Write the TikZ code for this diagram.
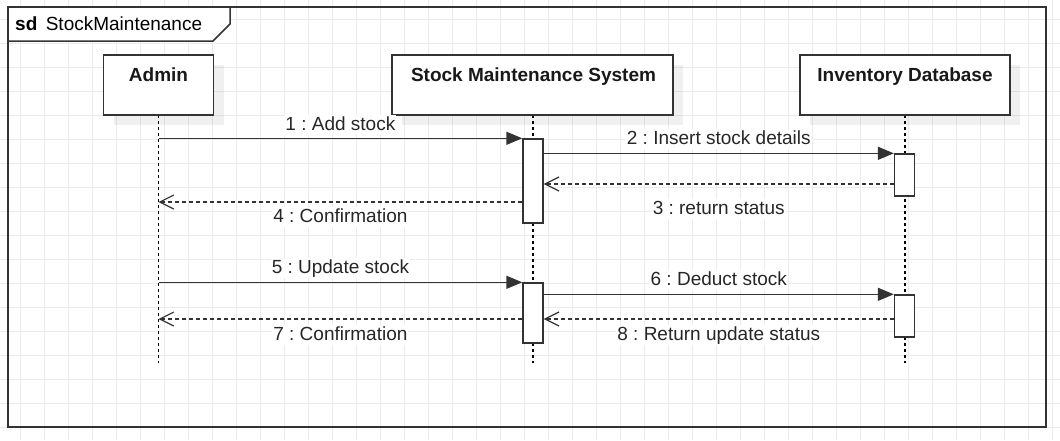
\documentclass[tikz,border=0pt]{standalone}
\usepackage{fontspec}
\setmainfont{Liberation Sans}
\usetikzlibrary{arrows.meta,shadows}
\frenchspacing

\begin{document}
\begin{tikzpicture}[x=1pt,y=-1pt,>=latex]

% --- Stijldefinities ---
\tikzset{
    raster/.style={draw=black!8, line width=0.8pt},
    kader/.style={draw=black!80, line width=1.5pt},
    kop/.style={
        draw=black!80, line width=1.5pt, fill=white,
        minimum height=60pt, inner sep=0pt,
        drop shadow={shadow xshift=10pt, shadow yshift=-10pt, fill=black, opacity=0.06}
    },
    koptekst/.style={
        font=\fontsize{19}{22}\selectfont\bfseries, text=black!90,
        inner sep=0pt, text height=14pt, text depth=0pt
    },
    levenslijn/.style={draw=black, line width=1.2pt, dash pattern=on 3pt off 3pt},
    activatie/.style={
        draw=black!80, line width=1.4pt, fill=white,
        minimum width=20pt, inner sep=0pt
    },
    bericht/.style={
        -{Triangle[length=16pt,width=13pt]},
        draw=black!80, line width=1.5pt
    },
    antwoord/.style={
        -{Straight Barb[length=14pt,width=14pt]},
        draw=black!80, line width=1.2pt, dash pattern=on 4pt off 3pt
    },
    tekst/.style={
        font=\fontsize{19}{22}\selectfont, text=black!85, fill=white,
        inner sep=1pt, text height=14pt, text depth=4pt
    }
}

\useasboundingbox (0,0) rectangle (1060,440);

% --- Raster ---
\foreach \x in {20,44,...,1052} \draw[raster] (\x,0) -- (\x,440);
\foreach \y in {19,43,...,427} \draw[raster] (0,\y) -- (1060,\y);

% --- Kader ---
\draw[kader] (8,7) rectangle (1046,427);
\draw[kader, fill=white] (8,7) -- (230,7) -- (230,24) -- (213,41) -- (8,41) -- cycle;
\node[anchor=west, inner sep=0pt, font=\fontsize{19}{22}\selectfont] (titel) at (15,24) {\textbf{sd}\, StockMaintenance};

% --- Levenslijnen ---
\coordinate (admin-eind) at (158.5,363);
\coordinate (sms-eind) at (533,363);
\coordinate (inv-eind) at (905,363);
\draw[levenslijn] (158.5,115) -- (admin-eind);
\draw[levenslijn] (533,115) -- (sms-eind);
\draw[levenslijn] (905,115) -- (inv-eind);

% --- Knooppunten (Nodes) ---
\node[kop, minimum width=110pt] (admin) at (158.5,85) {};
\node[kop, minimum width=281pt] (sms) at (532.5,85) {};
\node[kop, minimum width=210pt] (inv) at (905,85) {};
\node[koptekst] (admin-t) at (158.5,74) {Admin};
\node[koptekst] (sms-t) at (533.5,74) {Stock Maintenance System};
\node[koptekst] (inv-t) at (905,74) {Inventory Database};

\node[activatie, minimum height=84pt] (sms-a1) at (533,181) {};
\node[activatie, minimum height=42pt] (inv-a1) at (904.5,175) {};
\node[activatie, minimum height=60pt] (sms-a2) at (533,313) {};
\node[activatie, minimum height=42pt] (inv-a2) at (904.5,316) {};

% --- Berichten ---
\draw[bericht] (admin |- sms-a1.north) -- (sms-a1.north west)
    node[tekst, midway, yshift=13pt] {1 : Add stock};
\draw[bericht] (sms-a1.east |- inv-a1.north) -- (inv-a1.north west)
    node[tekst, midway, yshift=14pt] {2 : Insert stock details};
\draw[antwoord] (inv-a1.west |- 0,184) -- (sms-a1.east |- 0,184)
    node[tekst, midway, yshift=-25pt] {3 : return status};
\draw[antwoord] (sms-a1.west |- 0,202) -- (admin |- 0,202)
    node[tekst, midway, yshift=-15pt] {4 : Confirmation};

\draw[bericht] (admin |- sms-a2.north) -- (sms-a2.north west)
    node[tekst, midway, yshift=14pt] {5 : Update stock};
\draw[bericht] (sms-a2.east |- inv-a2.north) -- (inv-a2.north west)
    node[tekst, midway, yshift=14pt] {6 : Deduct stock};
\draw[antwoord] (sms-a2.west |- 0,319) -- (admin |- 0,319)
    node[tekst, midway, yshift=-16pt] {7 : Confirmation};
\draw[antwoord] (inv-a2.west |- 0,319) -- (sms-a2.east |- 0,319)
    node[tekst, midway, yshift=-16pt] {8 : Return update status};
\end{tikzpicture}
\end{document}
